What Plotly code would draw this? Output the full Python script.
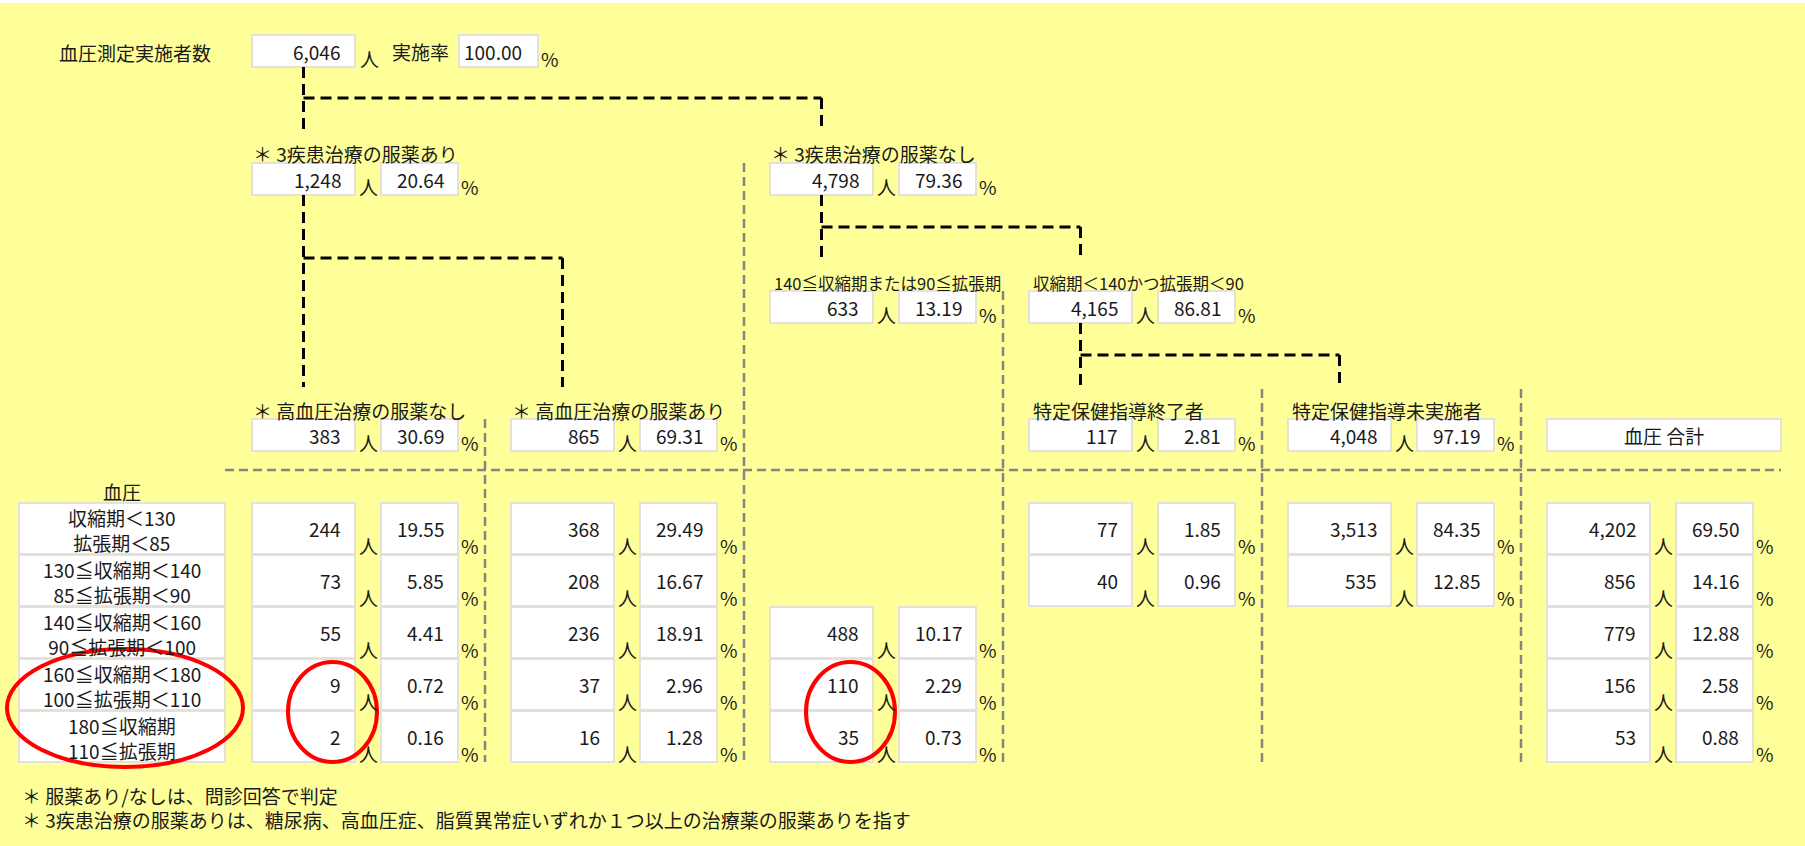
import plotly.graph_objects as go

# ---------------- data ----------------
total_label = '血圧測定実施者数'
total_count = 6046
rate_label = '実施率'
total_rate = 100.00

tier2_labels = ['＊ 3疾患治療の服薬あり', '＊ 3疾患治療の服薬なし']
tier2_counts = [1248, 4798]
tier2_pcts = [20.64, 79.36]

tier3_labels = ['140≦収縮期または90≦拡張期', '収縮期＜140かつ拡張期＜90']
tier3_counts = [633, 4165]
tier3_pcts = [13.19, 86.81]

tier4_labels = ['＊ 高血圧治療の服薬なし', '＊ 高血圧治療の服薬あり', '特定保健指導終了者', '特定保健指導未実施者']
tier4_counts = [383, 865, 117, 4048]
tier4_pcts = [30.69, 69.31, 2.81, 97.19]
total_col_label = '血圧 合計'

bp_header = '血圧'
bp_line1 = ['収縮期＜130', '130≦収縮期＜140', '140≦収縮期＜160', '160≦収縮期＜180', '180≦収縮期']
bp_line2 = ['拡張期＜85', '85≦拡張期＜90', '90≦拡張期＜100', '100≦拡張期＜110', '110≦拡張期']

htn_no_n = [244, 73, 55, 9, 2]
htn_no_p = [19.55, 5.85, 4.41, 0.72, 0.16]
htn_yes_n = [368, 208, 236, 37, 16]
htn_yes_p = [29.49, 16.67, 18.91, 2.96, 1.28]
high_n = [None, None, 488, 110, 35]
high_p = [None, None, 10.17, 2.29, 0.73]
done_n = [77, 40, None, None, None]
done_p = [1.85, 0.96, None, None, None]
none_n = [3513, 535, None, None, None]
none_p = [84.35, 12.85, None, None, None]
sum_n = [4202, 856, 779, 156, 53]
sum_p = [69.50, 14.16, 12.88, 2.58, 0.88]

unit_person = '人'
unit_pct = '%'

notes = ['＊ 服薬あり/なしは、問診回答で判定',
         '＊ 3疾患治療の服薬ありは、糖尿病、高血圧症、脂質異常症いずれか１つ以上の治療薬の服薬ありを指す']

# ---------------- layout constants ----------------
W, H = 1805, 846
BG = '#FFFF99'
FONT = 'Noto Sans CJK JP'
TXT = '#1a1a1a'
BORDER = '#E4E1D8'
FS = 19

GX0, GPITCH = 252, 259          # group column origins
CW, PX, PW = 103, 129, 77       # count width, pct offset, pct width
BH = 32                         # header box height
LEVEL_TOP = {1: 35, 2: 163, 3: 291, 4: 419}
ROW_TOP, ROW_PITCH, ROW_H = 503, 52, 51
CAT_X0, CAT_X1 = 19, 225

shapes = []
ann = []


def gx(k):
    return GX0 + GPITCH * k


def box(x0, y0, x1, y1):
    shapes.append(dict(type='rect', xref='x', yref='y', x0=x0, y0=y0, x1=x1, y1=y1,
                       fillcolor='white', line=dict(color=BORDER, width=2), layer='above'))


def text(x, y, s, size=FS, xanchor='left', yanchor='middle'):
    ann.append(dict(x=x, y=y, xref='x', yref='y', text=s, showarrow=False,
                    xanchor=xanchor, yanchor=yanchor,
                    font=dict(family=FONT, size=size, color=TXT)))


def fmt_n(v):
    return f'{v:,}'


def fmt_p(v):
    return f'{v:.2f}'


def count_pct(k, y0, h, n, p):
    x0 = gx(k)
    box(x0, y0, x0 + CW, y0 + h)
    box(x0 + PX, y0, x0 + PX + PW, y0 + h)
    text(x0 + CW - 12, y0 + h / 2, fmt_n(n), xanchor='right')
    text(x0 + PX + PW - 12, y0 + h / 2, fmt_p(p), xanchor='right')
    text(x0 + 116, y0 + h - 9, unit_person, xanchor='center')
    text(x0 + 218, y0 + h - 9, unit_pct, xanchor='center')


def dline(x0, y0, x1, y1, color='black', width=3, dash='11px,6px'):
    shapes.append(dict(type='line', xref='x', yref='y', x0=x0, y0=y0, x1=x1, y1=y1,
                       line=dict(color=color, width=width, dash=dash), layer='above'))


# top white strip
shapes.append(dict(type='rect', xref='x', yref='y', x0=0, y0=0, x1=W, y1=3,
                   fillcolor='white', line=dict(width=0), layer='below'))

# ---------- gray dashed grid ----------
GRAY = '#858585'
gray_starts = [LEVEL_TOP[4], LEVEL_TOP[2], LEVEL_TOP[3], 389, 389]
for j, ys in enumerate(gray_starts):
    xg = gx(j) + 233
    dline(xg, ys, xg, ROW_TOP + ROW_PITCH * 5 - 1, color=GRAY, width=2.5, dash='9px,5px')
dline(CAT_X1, 470, 1781, 470, color=GRAY, width=2.5, dash='9px,5px')

# ---------- level 1 ----------
y0 = LEVEL_TOP[1]
text(57, y0 + 17, total_label)
box(gx(0), y0, gx(0) + CW, y0 + BH)
text(gx(0) + CW - 13, y0 + BH / 2, fmt_n(total_count), xanchor='right')
text(gx(0) + 117, y0 + BH - 9, unit_person, xanchor='center')
text(390, y0 + 16, rate_label)
box(459, y0, 538, y0 + BH)
text(538 - 14, y0 + BH / 2, fmt_p(total_rate), xanchor='right')
text(550, y0 + BH - 9, unit_pct, xanchor='center')

# ---------- level 2..4 ----------
tier2_k = [0, 2]
tier3_k = [2, 3]
tier4_k = [0, 1, 3, 4]
for lbl, n, p, k in zip(tier2_labels, tier2_counts, tier2_pcts, tier2_k):
    text(gx(k) - 1, LEVEL_TOP[2] - 10, lbl)
    count_pct(k, LEVEL_TOP[2], BH, n, p)
for lbl, n, p, k in zip(tier3_labels, tier3_counts, tier3_pcts, tier3_k):
    text(gx(k) + 2, LEVEL_TOP[3] - 8, lbl, size=16.5)
    count_pct(k, LEVEL_TOP[3], BH, n, p)
for lbl, n, p, k in zip(tier4_labels, tier4_counts, tier4_pcts, tier4_k):
    text(gx(k) - 1 if lbl.startswith('＊') else gx(k) + 2, LEVEL_TOP[4] - 9, lbl)
    count_pct(k, LEVEL_TOP[4], BH, n, p)
box(gx(5), LEVEL_TOP[4], 1781, LEVEL_TOP[4] + BH)
text((gx(5) + 1781) / 2, LEVEL_TOP[4] + BH / 2, total_col_label, xanchor='center')

# ---------- tree connectors ----------
# (parent level, parent group, child level, child groups, split y)
connectors = [(1, 0, 2, [0, 2], 98),
              (2, 0, 4, [0, 1], 258),
              (2, 2, 3, [2, 3], 227),
              (3, 3, 4, [3, 4], 355)]
for pl, pk, cl, cks, sy in connectors:
    px_ = gx(pk) + CW / 2
    pb = LEVEL_TOP[pl] + BH
    end = LEVEL_TOP[cl] - 32
    dline(px_, pb, px_, end)
    xs = [gx(c) + CW / 2 for c in cks]
    dline(min(xs), sy, max(xs), sy)
    for xc in xs:
        if abs(xc - px_) > 1:
            dline(xc, sy, xc, end)

# ---------- table ----------
text((CAT_X0 + CAT_X1) / 2, 491, bp_header, xanchor='center')
columns = [(0, htn_no_n, htn_no_p), (1, htn_yes_n, htn_yes_p), (2, high_n, high_p),
           (3, done_n, done_p), (4, none_n, none_p), (5, sum_n, sum_p)]
for i, (l1, l2) in enumerate(zip(bp_line1, bp_line2)):
    ry = ROW_TOP + ROW_PITCH * i
    box(CAT_X0, ry, CAT_X1, ry + ROW_H)
    text((CAT_X0 + CAT_X1) / 2, ry + ROW_H / 2 + 1, l1 + '<br>' + l2, xanchor='center')
    for k, ns, ps in columns:
        if ns[i] is not None:
            count_pct(k, ry, ROW_H, ns[i], ps[i])

# ---------- red highlight ellipses ----------
RED = '#FF0000'
hi_rows = (3, 4)
ry0 = ROW_TOP + ROW_PITCH * hi_rows[0]
ry1 = ROW_TOP + ROW_PITCH * hi_rows[1] + ROW_H
shapes.append(dict(type='circle', xref='x', yref='y', x0=CAT_X0 - 12, x1=CAT_X1 + 18,
                   y0=ry0 - 10, y1=ry1 + 5, line=dict(color=RED, width=4), layer='above'))
for k in (0, 2):
    shapes.append(dict(type='circle', xref='x', yref='y', x0=gx(k) + 36, x1=gx(k) + 125,
                       y0=ry0 + 3, y1=ry1, line=dict(color=RED, width=4), layer='above'))

# ---------- notes ----------
for i, s in enumerate(notes):
    text(20, 795 + 24 * i, s)

fig = go.Figure(go.Scatter(x=[0], y=[0], mode='markers', marker=dict(opacity=0),
                           hoverinfo='skip', showlegend=False))
fig.update_layout(width=W, height=H, margin=dict(l=0, r=0, t=0, b=0),
                  paper_bgcolor=BG, plot_bgcolor=BG, shapes=shapes, annotations=ann,
                  showlegend=False)
fig.update_xaxes(range=[0, W], visible=False, fixedrange=True)
fig.update_yaxes(range=[H, 0], visible=False, fixedrange=True)
fig.write_html('out.html', config={'displayModeBar': False},
               post_script="document.body.style.margin='0';document.body.style.overflow='hidden';")
